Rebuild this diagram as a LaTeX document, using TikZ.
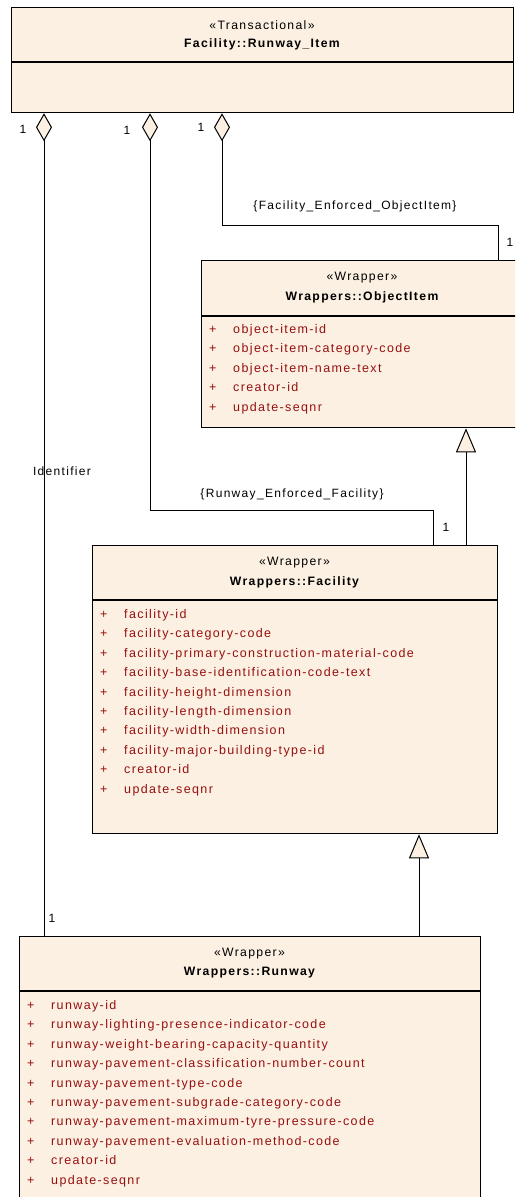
\documentclass[tikz,border=0pt]{standalone}
\usepackage{fontspec}
\setmainfont{Liberation Sans}
\newfontfamily\umlfont[LetterSpace=11]{Liberation Sans}
\usetikzlibrary{arrows.meta}
\definecolor{boxfill}{RGB}{251,240,226}
\definecolor{attrred}{RGB}{150,16,16}
\newcommand{\attr}[1]{\makebox[24pt][l]{+}#1}
\tikzset{
  x=1pt, y=-1pt,
  umlbox/.style={draw=black, line width=1.3pt, fill=boxfill, inner sep=0pt, anchor=north west},
  stereo/.style={font=\umlfont\fontsize{12.2}{13}\selectfont, inner sep=0pt},
  cname/.style={font=\umlfont\bfseries\fontsize{12.2}{13}\selectfont, inner sep=0pt},
  attrs/.style={font=\umlfont\fontsize{12.5}{19.45}\selectfont, text=attrred, align=left, anchor=north west, inner sep=0pt},
  lbl/.style={font=\umlfont\fontsize{12}{13}\selectfont, inner sep=0pt},
  conn/.style={draw=black, line width=1pt},
  aggr/.style={{Diamond[length=28pt,width=16pt,fill=boxfill,line width=1pt]}-},
  gen/.style={-{Triangle[length=24pt,width=20pt,fill=boxfill,line width=1pt]}},
}
\begin{document}
\begin{tikzpicture}
\useasboundingbox (0,0) rectangle (515,1197);
\clip (0,0) rectangle (515,1197);
% Facility::Runway_Item
\node[umlbox, minimum width=502pt, minimum height=105pt] (ri) at (11,7) {};
\draw[line width=1.2pt] (11,62) -- (513,62);
\node[stereo] (ris) at (262,25) {«Transactional»};
\node[cname] (rin) at (262,44) {Facility::Runway\_Item};
% Wrappers::ObjectItem
\node[umlbox, minimum width=323pt, minimum height=167pt] (oi) at (201,260) {};
\draw[line width=1.2pt] (201,316) -- (524,316);
\node[stereo] (ois) at (362,278) {«Wrapper»};
\node[cname] (oin) at (362,297) {Wrappers::ObjectItem};
\node[attrs] (oia) at (209,324) {\attr{object-item-id}\\\attr{object-item-category-code}\\\attr{object-item-name-text}\\\attr{creator-id}\\\attr{update-seqnr}};
% Wrappers::Facility
\node[umlbox, minimum width=405pt, minimum height=288pt] (f) at (92,545) {};
\draw[line width=1.2pt] (92,600) -- (497,600);
\node[stereo] (fs) at (294.5,563) {«Wrapper»};
\node[cname] (fn) at (294.5,582) {Wrappers::Facility};
\node[attrs] (fa) at (100,609) {\attr{facility-id}\\\attr{facility-category-code}\\\attr{facility-primary-construction-material-code}\\\attr{facility-base-identification-code-text}\\\attr{facility-height-dimension}\\\attr{facility-length-dimension}\\\attr{facility-width-dimension}\\\attr{facility-major-building-type-id}\\\attr{creator-id}\\\attr{update-seqnr}};
% Wrappers::Runway
\node[umlbox, minimum width=461pt, minimum height=280pt] (r) at (19,936) {};
\draw[line width=1.2pt] (19,991) -- (480,991);
\node[stereo] (rs) at (249.5,954) {«Wrapper»};
\node[cname] (rn) at (249.5,973) {Wrappers::Runway};
\node[attrs] (ra) at (27,1000) {\attr{runway-id}\\\attr{runway-lighting-presence-indicator-code}\\\attr{runway-weight-bearing-capacity-quantity}\\\attr{runway-pavement-classification-number-count}\\\attr{runway-pavement-type-code}\\\attr{runway-pavement-subgrade-category-code}\\\attr{runway-pavement-maximum-tyre-pressure-code}\\\attr{runway-pavement-evaluation-method-code}\\\attr{creator-id}\\\attr{update-seqnr}};
% Identifier aggregation
\draw[conn, aggr] ([xshift=33pt]ri.south west) -- ([xshift=25pt]r.north west);
\node[lbl] (l1a) at (23,129) {1};
\node[lbl] (l1b) at (62,471) {Identifier};
\node[lbl] (l1c) at (52,918) {1};
% Runway_Enforced_Facility
\draw[conn, aggr] ([xshift=139pt]ri.south west) -- (150,510) -- (433,510) -- ([xshift=341pt]f.north west);
\node[lbl] (l2a) at (127,130) {1};
\node[lbl] (l2b) at (292,494) {\{Runway\_Enforced\_Facility\}};
\node[lbl] (l2c) at (446,527) {1};
% Facility_Enforced_ObjectItem
\draw[conn, aggr] ([xshift=211pt]ri.south west) -- (222,225) -- (498,225) -- ([xshift=297pt]oi.north west);
\node[lbl] (l3a) at (201,127) {1};
\node[lbl] (l3b) at (355,206) {\{Facility\_Enforced\_ObjectItem\}};
\node[lbl] (l3c) at (510,242) {1};
% Generalizations
\draw[conn, gen] ([xshift=374pt]f.north west) -- ([xshift=265pt]oi.south west);
\draw[conn, gen] ([xshift=400pt]r.north west) -- ([xshift=327pt]f.south west);
\end{tikzpicture}
\end{document}
